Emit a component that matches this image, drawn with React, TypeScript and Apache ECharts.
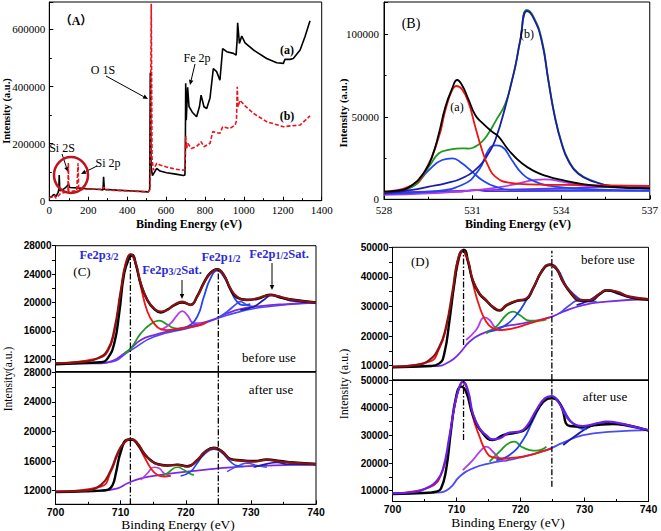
import React, { useEffect, useRef } from 'react';
import * as echarts from 'echarts';

type P = [number, number][];

// ---------- Panel A (survey) ----------
const A_BLACK: P = [[0,12000],[12,14000],[20,20000],[26,22000],[33,13000],[45,28000],[49,40000],[51,90000],[54,35000],[60,36000],[72,40000],[89,49000],[98,58000],[106,46000],[141,45000],[192,42000],[260,39000],[276,38000],[279,84000],[283,40000],[346,37000],[432,34000],[509,31000],[516,40000],[519,448000],[523,120000],[530,88000],[552,113000],[569,104000],[603,98000],[650,93000],[689,88000],[697,90000],[699,160000],[701,411000],[704,282000],[711,397000],[718,330000],[735,310000],[757,294000],[772,330000],[780,370000],[795,329000],[809,323000],[826,360000],[843,463000],[860,452000],[877,422000],[891,533000],[912,522000],[946,516000],[960,510000],[965,560000],[968,623000],[977,551000],[989,577000],[1006,553000],[1049,528000],[1117,498000],[1169,483000],[1203,481000],[1211,495000],[1237,495000],[1254,498000],[1289,528000],[1314,574000],[1340,630000]];
const A_RED: P = [[0,10000],[12,12000],[26,20000],[33,9000],[51,20000],[58,26000],[89,30000],[96,35000],[98,133000],[100,32000],[141,35000],[148,131000],[151,38000],[192,40000],[276,40000],[281,49000],[286,38000],[346,36000],[432,33000],[509,31000],[518,40000],[524,690000],[528,150000],[535,107000],[552,131000],[569,125000],[603,118000],[650,110000],[689,107000],[697,110000],[701,226000],[706,183000],[711,201000],[730,183000],[757,190000],[774,201000],[780,207000],[795,189000],[826,201000],[840,242000],[877,236000],[891,259000],[928,253000],[955,265000],[962,280000],[966,399000],[970,329000],[980,352000],[1006,332000],[1049,306000],[1117,277000],[1203,259000],[1237,262000],[1289,265000],[1340,297000]];

// ---------- Panel B (O 1s) ----------
const B_SUM: P = [[528,4650],[528.39,5050],[528.96,8690],[529.41,17780],[529.63,25860],[529.86,40000],[530.08,56160],[530.31,67270],[530.48,72320],[530.64,69290],[530.87,60200],[531.09,51110],[531.32,46460],[531.66,41010],[531.88,37980],[532.22,29900],[532.67,21820],[533.12,16770],[533.57,13740],[534.02,11720],[534.69,9290],[535.48,7680],[537,6670]];
const B_RED: P = [[528,4650],[528.96,8690],[529.41,17780],[529.86,37980],[530.08,54140],[530.31,66260],[530.45,68680],[530.64,66660],[530.87,58180],[531.09,44040],[531.32,29900],[531.54,19800],[531.77,13740],[532.22,10100],[532.89,9090],[534.02,8690],[537,8080]];
const B_GREEN: P = [[528,4040],[528.96,7680],[529.52,19800],[529.86,27880],[530.19,29900],[530.64,30910],[530.87,30710],[531.09,31920],[531.32,34950],[531.54,40000],[531.77,47070],[532.11,58000],[532.33,72000],[532.44,80000],[532.61,96000],[532.84,114740],[533.06,110700],[533.34,97000],[533.57,72000],[533.79,50000],[534.02,34000],[534.24,24000],[534.58,15760],[535.14,10710],[535.71,8080],[537,6670]];
const B_MAIN: P = [[528,3640],[528.96,5660],[529.52,7680],[530.08,9700],[530.64,12730],[531.21,19800],[531.54,27880],[531.77,35960],[532.11,56160],[532.44,80000],[532.61,96000],[532.84,114130],[533.06,110000],[533.34,96000],[533.57,71500],[533.79,49500],[534.02,33500],[534.24,23500],[534.58,15500],[535.14,10500],[535.71,8000],[537,6670]];
const B_COMP1: P = [[528,3640],[528.96,7680],[529.52,17780],[529.97,23840],[530.31,24850],[530.64,21820],[530.98,16770],[531.32,11720],[531.77,7680],[532.33,5660],[537,5250]];
const B_COMP2: P = [[528,3230],[529.52,4650],[530.64,8690],[531.21,17780],[531.54,29900],[531.77,32720],[531.99,31920],[532.33,23840],[532.67,15760],[533.12,10710],[533.79,7680],[535.14,6060],[537,5250]];
const B_COMP3: P = [[528,2630],[529.52,3640],[531.21,5660],[532.33,8690],[533.12,11720],[533.46,12120],[534.02,10710],[534.81,8080],[537,6670]];
const B_BASE1: P = [[528,4040],[537,8080]];
const B_BASE2: P = [[528,4040],[530.64,4650],[531.09,5660],[531.54,4850],[537,5250]];

// ---------- Panel C (Fe 2p, before / after) ----------
const C1_FIT: P = [[700,11444],[704.43,11679],[706.47,12148],[708.0,13320],[709.02,16134],[710.04,21762],[710.8,25514],[711.57,26827],[712.33,25514],[713.1,22700],[714.12,20355],[715.13,19183],[716.15,18714],[717.17,18948],[718.19,19652],[719.47,20121],[720.74,19652],[721.76,20824],[722.78,22700],[723.8,24107],[724.82,24670],[725.84,23873],[726.86,21997],[727.88,20824],[729.4,20355],[730.93,20590],[732.97,21059],[734.5,20824],[736.54,20355],[740,19980]];
const C1_DATA: P = [[700,11300],[704.43,11500],[706.98,11600],[708.0,12148],[709.02,14258],[709.78,18479],[710.55,24107],[711.31,26218],[711.82,26700],[712.33,25400],[713.1,22600],[714.12,20300],[715.13,19100],[716.15,18600],[717.17,19000],[718.19,19600],[719.47,20000],[720.74,19700],[721.76,20900],[722.78,22800],[723.8,24200],[724.82,24700],[725.84,23900],[726.86,21900],[727.88,20700],[729.4,20400],[730.93,20500],[732.97,21100],[734.5,20700],[736.54,20400],[740,20000]];
const C1_RED: P = [[700,11444],[706.47,12148],[708.0,13086],[709.02,15900],[710.04,21528],[710.8,25514],[711.57,26687],[712.33,25280],[713.1,22231],[714.12,18714],[715.13,17072],[716.15,16275],[717.17,16134],[718.19,16228],[720.23,16510],[722.27,16838],[723.29,17300]];
const C1_GREEN: P = [[710.55,12851],[711.57,13555],[713.1,15665],[714.63,16979],[715.9,17448],[717.17,16900],[718.19,16400],[719.21,16300]];
const C1_VIOLET: P = [[716.15,16130],[717.68,17072],[718.7,18245],[719.47,18808],[720.23,18245],[721.25,17100],[722.27,17100]];
const C1_BLUE: P = [[718.19,16134],[720.23,16603],[721.76,18010],[722.78,20824],[723.8,23404],[724.82,24482],[725.84,23638],[726.86,21762],[727.88,20121],[728.89,19652],[729.91,19793]];
const C1_BLUE2: P = [[724.82,17776],[726.35,18714],[727.88,19886],[728.38,20121],[729.4,19652],[730.42,19417]];
const C1_NAVY: P = [[728.38,18948],[730.42,19417],[731.95,20355],[733.23,21059],[734.5,20824],[736.03,20261],[740,19980]];
const C1_BG: P = [[700,11444],[706.98,11444],[709.02,11913],[710.55,12851],[711.57,13555],[713.1,14727],[715.13,15430],[718.19,16134],[721.25,16838],[724.31,17635],[726.35,18479],[728.38,19089],[731.44,19511],[735.52,19793],[740,19980]];
const C1_BG2: P = [[700,11444],[708,11600],[711.57,13300],[715.13,15200],[721.25,16600],[726.35,18200],[731.44,19300],[740,19980]];

const C2_FIT: P = [[700,11864],[704.43,12000],[706.98,12768],[708.51,14802],[709.53,17062],[710.55,18508],[711.57,19005],[712.59,18418],[713.61,17062],[714.63,16067],[715.64,15570],[717.17,15389],[718.7,15480],[720.23,15254],[721.76,16158],[723.03,17288],[724.31,17740],[725.58,17288],[726.86,16248],[728.38,16067],[730.42,15932],[732.46,16158],[734.5,15932],[740,15570]];
const C2_DATA: P = [[700,11800],[704.43,11900],[706.98,12000],[708.0,12090],[708.77,12768],[709.27,14350],[710.04,17288],[711.06,18870],[711.82,18870],[712.59,18300],[713.61,17000],[714.63,16100],[715.64,15600],[717.17,15400],[718.7,15500],[720.23,15300],[721.76,16100],[723.03,17300],[724.31,17800],[725.58,17300],[726.86,16300],[728.38,16100],[730.42,16000],[732.46,16200],[734.5,16000],[736.54,15800],[740,15600]];
const C2_RED: P = [[700,11864],[706.98,12542],[708.51,14576],[709.53,16836],[710.55,18418],[711.57,18960],[712.59,18192],[713.61,16610],[714.63,15028],[715.64,14124],[716.66,13898],[717.68,13988]];
const C2_VIOLET: P = [[713.1,13446],[714.12,14350],[715.13,15163],[715.9,15028],[716.66,14350],[717.68,13988]];
const C2_GREEN: P = [[716.15,13898],[717.17,14350],[718.7,15163],[719.72,14802],[720.74,14259],[721.25,14124]];
const C2_BLUE: P = [[719.21,13988],[720.74,14576],[721.76,15706],[722.78,16836],[724.31,17604],[725.33,17288],[726.86,15932],[727.88,15344],[728.89,15254]];
const C2_BLUE2: P = [[726.35,14576],[728.38,15480],[729.4,15706],[730.93,15389],[732.46,15163]];
const C2_NAVY: P = [[730.42,15163],[732.46,15615],[733.99,15796],[735.52,15570],[740,15480]];
const C2_BG: P = [[700,11864],[706.98,12000],[709.53,12316],[711.06,12994],[713.1,13672],[716.15,14124],[720.23,14576],[724.31,14937],[728.38,15254],[732.46,15389],[740,15570]];

// ---------- Panel D (Fe 2p, before / after) ----------
const D1_FIT: P = [[700,9653],[703.66,10217],[705.75,11907],[707.32,16415],[708.37,23177],[709.41,35574],[710.2,45717],[710.98,48873],[711.77,45717],[712.55,38955],[713.6,34447],[714.64,32193],[715.69,29939],[716.73,28812],[717.78,30502],[719.35,31968],[720.92,32757],[721.96,36138],[723.27,41773],[724.57,44252],[725.62,42900],[726.67,38392],[727.98,34447],[729.28,32193],[730.85,32193],[732.42,34447],[733.47,35574],[735.03,35011],[737.13,33320],[740,32532]];
const D1_DATA: P = [[700,9500],[705.75,9879],[707.32,10780],[708.1,14161],[708.89,25000],[709.67,37828],[710.46,47408],[711.24,49098],[711.77,45500],[712.55,38700],[713.6,34200],[714.64,32000],[715.69,29700],[716.73,28600],[717.78,30300],[719.35,31800],[720.92,32500],[721.96,36000],[723.27,41600],[724.57,44100],[725.62,42700],[726.67,38200],[727.98,34200],[729.28,32000],[730.85,32000],[732.42,34200],[733.47,35400],[735.03,34800],[737.13,33100],[740,32300]];
const D1_RED: P = [[700,9653],[705.75,11344],[707.32,15852],[708.37,22614],[709.41,34447],[710.2,44027],[710.98,48535],[711.77,45154],[712.55,37828],[713.6,29939],[714.64,24868],[715.69,22614],[716.73,22050],[718.82,22614],[721.44,24304],[724.05,25995],[724.57,26333]];
const D1_VIOLET: P = [[711.5,18669],[713.07,22050],[714.38,26333],[715.16,25431],[716.21,22614],[717.26,22050]];
const D1_GREEN: P = [[714.64,20923],[716.21,23177],[717.78,27122],[718.82,28249],[719.87,27122],[721.44,25206],[723.01,25206],[724.05,25657]];
const D1_BLUE: P = [[715.16,21487],[717.26,23177],[719.35,27122],[720.92,32193],[722.48,38392],[723.79,43463],[724.84,44027],[725.88,42336],[727.19,36800],[728.76,33320],[729.81,32193],[731.37,31968]];
const D1_BLUE2: P = [[726.14,27685],[727.71,30502],[729.02,31968],[730.33,31630],[731.9,31630]];
const D1_NAVY: P = [[728.76,30502],[730.85,32193],[732.42,34447],[733.47,35574],[735.03,34447],[737.13,33095],[740,32532]];
const D1_BG: P = [[700,9653],[706.8,9879],[708.89,11344],[710.46,14161],[712.03,18106],[714.12,20923],[717.26,23177],[720.39,24304],[724.57,26333],[726.67,28249],[729.81,30502],[733.47,31630],[740,32532]];

const D2_FIT: P = [[700,9030],[703.66,9633],[705.75,11440],[706.8,13248],[707.84,17465],[708.89,29515],[709.67,40360],[710.46,47590],[710.98,49398],[711.77,46385],[712.55,37950],[713.6,32528],[714.64,30118],[715.69,28551],[716.73,28913],[718.3,30961],[719.87,31323],[720.92,33130],[722.48,39155],[723.79,43373],[724.84,44216],[725.88,42168],[727.19,36745],[728.24,34335],[729.81,33371],[731.9,34335],[733.47,34938],[735.56,34335],[737.65,33130],[740,31925]];
const D2_DATA: P = [[700,8789],[705.75,9271],[706.8,9633],[707.58,10838],[708.37,17465],[709.15,31925],[709.94,43975],[710.72,47590],[711.5,45783],[712.55,37348],[714.12,30720],[715.69,28310],[717.26,30118],[719.35,30961],[720.92,32528],[722.48,38553],[724.05,43011],[724.84,43373],[726.14,41565],[727.71,33371],[729.81,33130],[731.9,33733],[734.51,34094],[740,31684]];
const D2_RED: P = [[700,9030],[705.75,11200],[707.84,17224],[708.89,29000],[709.67,40119],[710.46,47349],[710.98,49157],[711.77,45783],[712.55,36745],[713.6,29515],[714.64,24093],[715.69,22044],[717.26,21683],[719.35,22044],[721.44,22888],[724.05,24695],[724.84,25177]];
const D2_VIOLET: P = [[710.98,17465],[712.55,21080],[713.86,24695],[714.64,25900],[715.69,24093],[716.73,21683],[717.78,20839]];
const D2_GREEN: P = [[715.16,20478],[716.73,24093],[718.3,27346],[719.09,27708],[720.13,25900],[721.44,24695],[722.48,24454],[724.05,25900]];
const D2_BLUE: P = [[716.21,21080],[718.3,22888],[720.39,28310],[721.96,35540],[723.53,42168],[724.84,43975],[726.14,41565],[727.71,35540],[729.02,32889],[730.33,32166]];
const D2_NAVY: P = [[726.67,26503],[728.76,30118],[730.85,33130],[732.94,34576],[734.51,34335],[737.13,33130],[740,31925]];
const D2_BG: P = [[700,9030],[706.8,9271],[708.89,10838],[710.46,15055],[712.55,18068],[715.16,19875],[719.35,21683],[724.05,24695],[726.67,27346],[729.81,30118],[734.51,31323],[740,31925]];

// reference dash-dot lines: [energy, yFrom, yTo]
const C1_REF: [number, number, number][] = [[711.5, 10300, 26700], [725, 10300, 24700]];
const C2_REF: [number, number, number][] = [[711.5, 10150, 28000], [725, 10150, 28000]];
const D1_REF: [number, number, number][] = [[711.1, 17000, 49500], [724.9, 5170, 48800]];
const D2_REF: [number, number, number][] = [[711.1, 28300, 50000], [724.9, 11400, 50000]];

// tick values
const C_Y_LABELS = [12000, 16000, 20000, 24000, 28000];
const C_Y_TICKS = [12000, 14000, 16000, 18000, 20000, 22000, 24000, 26000, 28000];
const D_Y_LABELS = [10000, 20000, 30000, 40000, 50000];
const D_Y_TICKS = [10000, 15000, 20000, 25000, 30000, 35000, 40000, 45000, 50000];

const SERIF = "'Liberation Serif','Times New Roman',serif";
const SANS = "'Liberation Sans',Arial,sans-serif";

const COL = {
  black: '#000000', fit: '#8a1212', red: '#f01414', green: '#1f9a1f', violet: '#b23ce8',
  blue: '#2146f0', blue2: '#4a4cf2', navy: '#1c1ca8', bg: '#7a2be2', bg2: '#4b4bf0', dfit: '#6a1ee8',
};

const plain = (v: number) => String(v);

function mkLine(data: P, idx: number, color: string, width: number, extra: any = {}) {
  return {
    type: 'line', xAxisIndex: idx, yAxisIndex: idx, data, showSymbol: false, symbol: 'none',
    smooth: idx <= 0 ? false : 0.5, silent: true,
    lineStyle: { color, width, ...(extra.lineStyle || {}) }, itemStyle: { color },
    ...Object.fromEntries(Object.entries(extra).filter(([k]) => k !== 'lineStyle')),
  };
}

function refLines(refs: [number, number, number][], idx: number) {
  return refs.map(([e, y0, y1]) => ({
    type: 'line', xAxisIndex: idx, yAxisIndex: idx, data: [[e, y0], [e, y1]], showSymbol: false, symbol: 'none', silent: true,
    lineStyle: { color: '#000', width: 1.3, type: [6, 2, 1.5, 2] }, z: 5,
  }));
}

function arrow(x1: number, y1: number, x2: number, y2: number, color = '#000') {
  const dx = x2 - x1, dy = y2 - y1, L = Math.hypot(dx, dy), ux = dx / L, uy = dy / L;
  const hl = 5, hw = 2.3;
  const bx = x2 - ux * hl, by = y2 - uy * hl;
  return {
    type: 'group', silent: true, z: 100, children: [
      { type: 'line', shape: { x1, y1, x2: bx, y2: by }, style: { stroke: color, lineWidth: 1 } },
      { type: 'polygon', shape: { points: [[x2, y2], [bx - uy * hw, by + ux * hw], [bx + uy * hw, by - ux * hw]] }, style: { fill: color } },
    ],
  };
}

function txt(x: number, y: number, text: string, style: any = {}, extra: any = {}) {
  return {
    type: 'text', x, y, silent: true, z: 100, ...extra,
    style: { text, fill: '#000', fontFamily: SERIF, fontSize: 12, align: 'center', verticalAlign: 'middle', ...style },
  };
}

const FE_RICH = {
  m: { fontSize: 12.5, fontFamily: SERIF, fontWeight: 'bold', fill: '#2b2bd6', lineHeight: 13, verticalAlign: 'top' },
  s: { fontSize: 10, fontFamily: SERIF, fontWeight: 'bold', fill: '#2b2bd6', lineHeight: 11, verticalAlign: 'bottom' },
};
function feLabel(x: number, y: number, sub: string, sat: boolean) {
  const text = '{m|Fe2p}{s|' + sub + '}' + (sat ? '{m|Sat.}' : '');
  return txt(x, y, text, { rich: FE_RICH, fill: '#2b2bd6', lineHeight: 18 });
}

const GRIDS = [
  { left: 49.3, top: 2, width: 272.4, height: 198.7 },
  { left: 384, top: 2, width: 267.7, height: 197.3 },
  { left: 55.5, top: 245.7, width: 260.5, height: 125.8 },
  { left: 55.5, top: 372.3, width: 260.5, height: 132 },
  { left: 392.5, top: 247.3, width: 256, height: 132.7 },
  { left: 392.5, top: 380, width: 256, height: 121.5 },
];

export default function App() {
  const ref = useRef<HTMLDivElement>(null);
  useEffect(() => {
    const chart = echarts.init(ref.current!, null, { renderer: 'svg' });
    const serifLabel = { fontFamily: SERIF, fontSize: 11, color: '#000', formatter: plain };
    const sansLabel = { fontFamily: SANS, fontSize: 10, fontWeight: 'bold', color: '#000', formatter: plain };
    const axLine = { show: true, lineStyle: { color: '#000', width: 1 } };

    const xAxis: any[] = [
      { gridIndex: 0, type: 'value', min: 0, max: 1400, interval: 200, axisLine: axLine,
        axisTick: { inside: true, length: 4, lineStyle: { color: '#000' } },
        minorTick: { show: true, splitNumber: 2, length: 2.5, lineStyle: { color: '#000' } },
        axisLabel: { ...serifLabel, margin: 4 }, splitLine: { show: false } },
      { gridIndex: 1, type: 'value', min: 528, max: 537, interval: 3, axisLine: axLine,
        axisTick: { inside: true, length: 4, lineStyle: { color: '#000' } },
        minorTick: { show: true, splitNumber: 2, length: 2.5, lineStyle: { color: '#000' } },
        axisLabel: { ...serifLabel, margin: 5 }, splitLine: { show: false } },
    ];
    for (const gi of [2, 3, 4, 5]) {
      const bottom = gi === 3 || gi === 5;
      xAxis.push({
        gridIndex: gi, type: 'value', min: 700, max: 740, interval: 10, axisLine: axLine,
        axisTick: { show: bottom, inside: true, length: 4, lineStyle: { color: '#000' } },
        minorTick: { show: bottom, splitNumber: 2, length: 2.5, lineStyle: { color: '#000' } },
        axisLabel: { show: bottom, ...sansLabel, fontSize: 10.5, margin: 2 }, splitLine: { show: false },
      });
    }

    const cdY = (gi: number, min: number, max: number, labels: number[], ticks: number[]) => ({
      gridIndex: gi, type: 'value', min, max, axisLine: axLine,
      axisTick: { inside: false, length: 3.5, customValues: ticks, lineStyle: { color: '#000' } },
      axisLabel: { ...sansLabel, margin: 4, customValues: labels }, splitLine: { show: false },
    });
    const yAxis: any[] = [
      { gridIndex: 0, type: 'value', min: 0, max: 696000, interval: 200000, axisLine: axLine,
        axisTick: { inside: true, length: 4, lineStyle: { color: '#000' } },
        minorTick: { show: true, splitNumber: 2, length: 2.5, lineStyle: { color: '#000' } },
        axisLabel: { ...serifLabel, margin: 4, showMaxLabel: false }, splitLine: { show: false } },
      { gridIndex: 1, type: 'value', min: 0, max: 119600, interval: 50000, axisLine: axLine,
        axisTick: { inside: true, length: 4, lineStyle: { color: '#000' } },
        minorTick: { show: true, splitNumber: 2, length: 2.5, lineStyle: { color: '#000' } },
        axisLabel: { ...serifLabel, margin: 5, showMaxLabel: false }, splitLine: { show: false } },
      cdY(2, 10300, 28000, C_Y_LABELS, C_Y_TICKS),
      cdY(3, 10150, 28000, C_Y_LABELS, C_Y_TICKS),
      cdY(4, 5170, 50000, D_Y_LABELS, D_Y_TICKS),
      cdY(5, 6100, 50000, D_Y_LABELS, D_Y_TICKS),
    ];

    const series: any[] = [
      mkLine(A_BLACK, 0, COL.black, 1.6),
      mkLine(A_RED, 0, '#e8141c', 1.6, { lineStyle: { type: [4, 2] } }),

      mkLine(B_BASE1, 1, COL.bg, 1.6),
      mkLine(B_BASE2, 1, '#5a2bd0', 1.6),
      mkLine(B_COMP3, 1, COL.violet, 1.8),
      mkLine(B_COMP1, 1, COL.blue, 1.8),
      mkLine(B_COMP2, 1, COL.blue, 1.8),
      mkLine(B_GREEN, 1, COL.green, 1.8),
      mkLine(B_MAIN, 1, COL.navy, 1.8),
      mkLine(B_RED, 1, COL.red, 1.8),
      mkLine(B_SUM, 1, COL.black, 1.8),

      mkLine(C1_BG2, 2, COL.bg2, 1.6),
      mkLine(C1_BG, 2, COL.bg, 1.8),
      mkLine(C1_GREEN, 2, COL.green, 1.8),
      mkLine(C1_VIOLET, 2, COL.violet, 1.8),
      mkLine(C1_BLUE2, 2, COL.blue2, 1.8),
      mkLine(C1_NAVY, 2, COL.navy, 1.8),
      mkLine(C1_BLUE, 2, COL.blue, 1.8),
      mkLine(C1_RED, 2, COL.red, 1.8),
      mkLine(C1_DATA, 2, COL.black, 2.4),
      mkLine(C1_FIT, 2, COL.fit, 2.2),
      ...refLines(C1_REF, 2),

      mkLine(C2_BG, 3, COL.bg, 1.8),
      mkLine(C2_VIOLET, 3, COL.violet, 1.6),
      mkLine(C2_GREEN, 3, COL.green, 1.6),
      mkLine(C2_BLUE2, 3, COL.blue2, 1.6),
      mkLine(C2_NAVY, 3, COL.navy, 1.6),
      mkLine(C2_BLUE, 3, COL.blue, 1.6),
      mkLine(C2_RED, 3, COL.red, 1.8),
      mkLine(C2_DATA, 3, COL.black, 2.4),
      mkLine(C2_FIT, 3, COL.fit, 2.2),
      ...refLines(C2_REF, 3),

      mkLine(D1_BG, 4, COL.bg, 1.8),
      mkLine(D1_VIOLET, 4, COL.violet, 1.8),
      mkLine(D1_GREEN, 4, COL.green, 1.8),
      mkLine(D1_BLUE2, 4, COL.blue2, 1.8),
      mkLine(D1_NAVY, 4, COL.navy, 1.8),
      mkLine(D1_BLUE, 4, COL.blue, 1.8),
      mkLine(D1_RED, 4, COL.red, 1.8),
      mkLine(D1_DATA, 4, COL.black, 2.4),
      mkLine(D1_FIT, 4, COL.fit, 2.2),
      ...refLines(D1_REF, 4),

      mkLine(D2_BG, 5, COL.blue2, 1.8),
      mkLine(D2_VIOLET, 5, COL.violet, 1.8),
      mkLine(D2_GREEN, 5, COL.green, 1.8),
      mkLine(D2_NAVY, 5, COL.navy, 1.8),
      mkLine(D2_BLUE, 5, COL.blue, 1.8),
      mkLine(D2_RED, 5, COL.red, 1.8),
      mkLine(D2_DATA, 5, COL.black, 2.4),
      mkLine(D2_FIT, 5, COL.dfit, 2.2),
      ...refLines(D2_REF, 5),
    ];

    const bold = { fontWeight: 'bold' };
    const graphic: any[] = [
      // panel A
      txt(76, 21, '（A）', { fontSize: 12, fontWeight: 'bold', fontFamily: SERIF + ",'Noto Sans CJK SC'" }),
      txt(103, 70, 'O 1S', { fontSize: 12 }),
      arrow(106, 76, 148, 99),
      txt(197, 58, 'Fe 2p', { fontSize: 12 }),
      arrow(195, 64, 190, 85),
      txt(287, 50, '(a)', { fontSize: 12, ...bold }),
      txt(287, 116, '(b)', { fontSize: 12, ...bold }),
      txt(62, 148, 'Si 2S', { fontSize: 12 }),
      txt(108, 163, 'Si 2p', { fontSize: 12 }),
      arrow(62, 154, 68, 172),
      arrow(97, 166, 81, 174),
      { type: 'ellipse', silent: true, z: 100, shape: { cx: 71, cy: 175, rx: 17, ry: 18 }, style: { fill: 'none', stroke: '#c0141c', lineWidth: 2.5 } },
      txt(189, 224, 'Binding Energy (eV)', { fontSize: 12, ...bold }),
      txt(6, 111, 'Intensity (a.u.)', { fontSize: 10.5, ...bold }, { rotation: Math.PI / 2 }),
      // panel B
      txt(411, 23, '(B)', { fontSize: 14 }),
      txt(457, 107, '(a)', { fontSize: 12 }),
      txt(527, 34, '(b)', { fontSize: 12 }),
      txt(518, 224, 'Binding Energy (eV)', { fontSize: 12, ...bold }),
      txt(343, 113, 'Intensity (a.u.)', { fontSize: 11, ...bold }, { rotation: Math.PI / 2 }),
      // panel C
      txt(82, 271, '(C)', { fontSize: 13 }),
      feLabel(99, 255, '3/2', false),
      feLabel(172, 270, '3/2', true),
      feLabel(221, 257, '1/2', false),
      feLabel(279, 254, '1/2', true),
      arrow(182, 280, 182, 299),
      arrow(272, 263, 272, 290),
      txt(269, 357, 'before use', { fontSize: 13 }),
      txt(271, 389, 'after use', { fontSize: 13 }),
      txt(178, 524, 'Binding Energy (eV)', { fontSize: 13.5 }),
      txt(8, 379, 'Intensity(a.u.)', { fontSize: 11.5 }, { rotation: Math.PI / 2 }),
      // panel D
      txt(420, 261, '(D)', { fontSize: 13 }),
      txt(608, 259, 'before use', { fontSize: 13 }),
      txt(605, 396, 'after use', { fontSize: 13 }),
      txt(508, 522, 'Binding Energy (eV)', { fontSize: 13.5 }),
      txt(344, 384, 'Intensity (a.u.)', { fontSize: 12 }, { rotation: Math.PI / 2 }),
    ];

    chart.setOption({
      animation: false,
      backgroundColor: '#fff',
      grid: GRIDS.map((g) => ({ ...g, show: true, borderColor: '#000', borderWidth: 1, backgroundColor: 'transparent' })),
      xAxis, yAxis, series, graphic,
    });
    return () => chart.dispose();
  }, []);
  return <div ref={ref} style={{ position: 'absolute', left: 0, top: 0, width: 661, height: 531, background: '#fff' }} />;
}
